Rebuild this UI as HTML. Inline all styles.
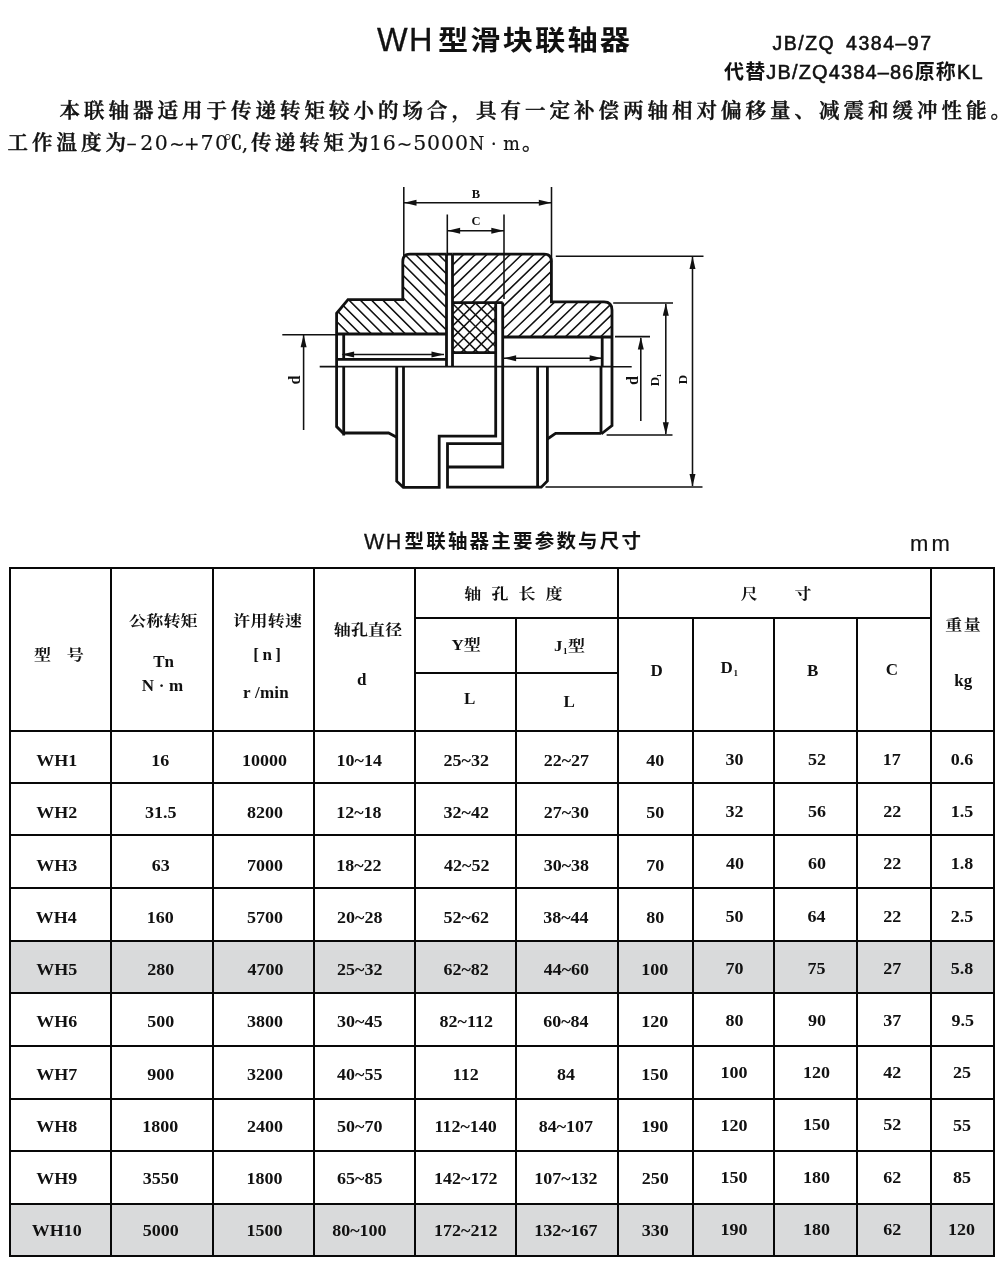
<!DOCTYPE html>
<html lang="zh-CN">
<head>
<meta charset="utf-8">
<title>WH型滑块联轴器</title>
<style>
*{box-sizing:border-box;margin:0;padding:0}
html,body{width:1000px;height:1272px;background:#fff;overflow:hidden}
body{position:relative;will-change:transform;color:#111;font-family:"Liberation Serif","Noto Serif CJK SC",serif}
.abs{position:absolute;white-space:nowrap;line-height:1}
.sans{font-family:"Liberation Sans","Noto Sans CJK SC",sans-serif}
h1.title{left:376px;top:22.5px;height:36px;font-size:27px;font-weight:700}
h1.title span{position:absolute;left:0;top:0;line-height:36px}
h1.title .wh{left:1px;top:-1px;font-size:32.5px;font-weight:400;letter-spacing:1.2px;-webkit-text-stroke:.3px #111}
h1.title .cj{left:61.5px;letter-spacing:1.9px;transform-origin:0 50%;transform:scaleX(1.12)}
.std1{left:772.5px;top:34px;font-size:19.5px;font-weight:400;letter-spacing:1.5px;-webkit-text-stroke:.55px #111}
.std2{left:724px;top:61.5px;font-size:20px;font-weight:400;letter-spacing:1.15px;-webkit-text-stroke:.55px #111}
.std2 b{font-weight:700;-webkit-text-stroke:0}
p.para{font-size:20.5px;font-weight:600;letter-spacing:4px;-webkit-text-stroke:.45px #111}
.p1{left:59.5px;top:101px}
.p2{left:7.5px;top:133px}
p.para .l{display:inline-block;font-family:"DejaVu Serif","Liberation Serif",serif;font-weight:400;font-size:20.5px;letter-spacing:1.4px;-webkit-text-stroke:.2px #111;transform-origin:0 78%;transform:scaleY(.95)}
p.para .n{font-size:17.5px;letter-spacing:6.7px;transform:scaleY(1.1)}
p.para .t{font-size:18.5px;letter-spacing:-.6px;margin:0 1.5px 0 0}
p.para .dc{display:inline-block;letter-spacing:0;font-weight:900;-webkit-text-stroke:0;transform-origin:0 50%;transform:scaleX(.88);margin-right:-3px}
.cap{left:364px;top:528px;height:26px;font-size:19.5px;font-weight:700}
.cap span{position:absolute;left:0;top:0;line-height:26px}
.cap .wh{top:1px;font-size:21.5px;font-weight:400;letter-spacing:1.5px;-webkit-text-stroke:.3px #111}
.cap .cj{left:40.5px;letter-spacing:2.2px}
.unit{left:910px;top:533px;font-size:22px;font-weight:400;letter-spacing:3.1px;-webkit-text-stroke:.2px #111}
svg.draw{position:absolute;left:250px;top:170px}
table.t{position:absolute;left:9px;top:567px;border-collapse:collapse;table-layout:fixed;font-size:18px;font-weight:700}
table.t td,table.t th{border:2px solid #080808;text-align:center;vertical-align:middle;padding:0;font-weight:700;line-height:1;white-space:nowrap}
table.t tr.sh td{background:#d9dadb}
table.t td span{position:relative;display:inline-block;transform:scaleY(.9)}
table.t th span{position:absolute;line-height:1;white-space:nowrap}
table.t th .hc{font-size:17px;transform:scaleY(.87);transform-origin:50% 50%}
table.t th .hl{font-size:17px}
table.t th sub{font-size:9px;vertical-align:baseline;position:relative;top:3px;letter-spacing:0;margin:0 .5px}
</style>
</head>
<body>
<h1 class="abs sans title"><span class="wh">WH</span><span class="cj">型滑块联轴器</span></h1>
<div class="abs sans std1">JB/ZQ<span style="letter-spacing:0">&nbsp; </span>4384–97</div>
<div class="abs sans std2"><b>代替</b>JB/ZQ4384–86<b>原称</b>KL</div>
<p class="abs para p1">本联轴器适用于传递转矩较小的场合，具有一定补偿两轴相对偏移量、减震和缓冲性能。</p>
<p class="abs para p2">工作温度为<span class="l" style="margin-left:-3.5px"><span style="letter-spacing:3.5px">–</span>20<span class="t">~+</span>70</span><span class="dc" style="margin-left:-5px">℃</span><span class="l" style="letter-spacing:0;margin:0 2.5px 0 0">,</span><span style="letter-spacing:3.7px">传递转矩为</span><span class="l" style="margin-left:-3px;letter-spacing:.9px">16<span class="t">~</span>5000</span><span class="l n" style="margin-left:0">N·m</span><span style="margin-left:-4.5px">。</span></p>
<svg class="draw" width="500" height="330" viewBox="250 170 500 330" role="img" aria-label="WH型滑块联轴器 结构图">
<defs>
<clipPath id="cl"><path d="M446.5,254.2H410Q402.8,254.2 402.8,261.5V299.7H348L336.6,313.3V334H446.5Z"/></clipPath>
<clipPath id="cr"><path d="M452.4,254.2H544Q551.4,254.2 551.4,261.5V301.8H604Q612,301.8 612,310V337H502.8V302.6H452.4Z"/></clipPath>
<clipPath id="cx"><rect x="452.4" y="302.6" width="43.2" height="50"/></clipPath>
</defs>
<!-- section hatching -->
<g stroke="#111" stroke-width="1.55" fill="none">
<path clip-path="url(#cl)" d="M256.9,253L338.9,335M268.2,253L350.2,335M279.4,253L361.4,335M290.7,253L372.7,335M301.9,253L383.9,335M313.2,253L395.2,335M324.4,253L406.4,335M335.7,253L417.7,335M346.9,253L428.9,335M358.2,253L440.2,335M369.4,253L451.4,335M380.7,253L462.7,335M391.9,253L473.9,335M403.2,253L485.2,335M414.4,253L496.4,335M425.7,253L507.7,335M437,253L519,335"/>
<path clip-path="url(#cr)" d="M453.3,253L365.3,338M465,253L377,338M476.7,253L388.7,338M488.4,253L400.4,338M500.1,253L412.1,338M511.8,253L423.8,338M523.5,253L435.5,338M535.2,253L447.2,338M546.9,253L458.9,338M558.6,253L470.6,338M570.3,253L482.3,338M582,253L494,338M593.7,253L505.7,338M605.4,253L517.4,338M617.1,253L529.1,338M628.8,253L540.8,338M640.5,253L552.5,338M652.2,253L564.2,338M663.9,253L575.9,338M675.6,253L587.6,338M687.3,253L599.3,338M699,253L611,338"/>
<path clip-path="url(#cx)" d="M453.2,302L401.2,354M464.9,302L412.9,354M476.6,302L424.6,354M488.3,302L436.3,354M500,302L448,354M511.7,302L459.7,354M523.4,302L471.4,354M535.1,302L483.1,354M546.8,302L494.8,354M404.2,302L456.2,354M415.9,302L467.9,354M427.6,302L479.6,354M439.3,302L491.3,354M451,302L503,354M462.7,302L514.7,354M474.4,302L526.4,354M486.1,302L538.1,354"/>
</g>
<!-- thin lines: extension and dimension lines -->
<g stroke="#111" stroke-width="1.55" fill="none">
<path d="M403.8,187V256M551.5,187V262M404,202.7H551"/>
<path d="M447.3,214.5V256M504,214.5V299M448,230.7H504"/>
<path d="M282.3,334.7H337M319.7,366.6H337M303.6,335V430"/>
<path d="M342.5,354.5H444M504,358.2H602"/>
<path d="M555.8,256.2H703.5M545.5,486.9H702.5M692.5,257V486"/>
<path d="M613.2,303H673M606.6,435H672.5M665.8,304V434"/>
<path d="M615,336.6H650M612,366.8H631.7M640.8,338V421"/>
</g>
<!-- arrow heads -->
<g fill="#111">
<path d="M0,0L12.5,-3V3Z" transform="translate(404 202.7)"/>
<path d="M0,0L12.5,-3V3Z" transform="translate(551.3 202.7) rotate(180)"/>
<path d="M0,0L12.5,-3V3Z" transform="translate(447.6 230.7)"/>
<path d="M0,0L12.5,-3V3Z" transform="translate(503.8 230.7) rotate(180)"/>
<path d="M0,0L12.5,-3V3Z" transform="translate(303.6 334.8) rotate(90)"/>
<path d="M0,0L12.5,-3V3Z" transform="translate(341.6 354.5)"/>
<path d="M0,0L12.5,-3V3Z" transform="translate(444 354.5) rotate(180)"/>
<path d="M0,0L12.5,-3V3Z" transform="translate(503.6 358.2)"/>
<path d="M0,0L12.5,-3V3Z" transform="translate(602.2 358.2) rotate(180)"/>
<path d="M0,0L12.5,-3V3Z" transform="translate(692.5 256.6) rotate(90)"/>
<path d="M0,0L12.5,-3V3Z" transform="translate(692.5 486.6) rotate(-90)"/>
<path d="M0,0L12.5,-3V3Z" transform="translate(665.8 303.2) rotate(90)"/>
<path d="M0,0L12.5,-3V3Z" transform="translate(665.8 434.8) rotate(-90)"/>
<path d="M0,0L12.5,-3V3Z" transform="translate(640.8 337) rotate(90)"/>
</g>
<!-- thick outline -->
<g stroke="#111" stroke-width="2.8" fill="none" stroke-linejoin="miter" stroke-linecap="butt">
<path d="M446.5,254.2H410Q402.8,254.2 402.8,261.5V299.7H348L336.6,313.3V426.6L343.5,433.5"/>
<path d="M336.6,334H446.5M336.6,359.4H446.5M343.7,334V359.4M343.7,366.6V435.5"/>
<path d="M343.6,433H388.6L396.7,437.2"/>
<path d="M396.7,366.6V481.2L403.3,487.3H439.2V436.2H495.7V302.6"/>
<path d="M403.5,366.6V487"/>
<path d="M446.5,254.2V366.6M452.5,254.2V366.6M446.5,254.2H452.5"/>
<path d="M452.4,254.2H544Q551.4,254.2 551.4,261.5V301.8H604Q612,301.8 612,310V425.5L601.2,434"/>
<path d="M452.4,302.6H502.7M452.4,352.6H495.7"/>
<path d="M502.7,337H612M602.2,337V366M601,366V434"/>
<path d="M502.7,302.6V467H447.5M502.7,443.7H447.5V487.2H541.3L547.4,481V366.6"/>
<path d="M537.6,366.6V487.2"/>
<path d="M547.4,439L555.6,433.4H601"/>
</g>
<path d="M337,366.6H612" stroke="#111" stroke-width="1.8" fill="none"/>
<!-- labels -->
<g font-family="'Liberation Serif',serif" font-weight="700" fill="#111" text-anchor="middle">
<text x="476" y="197.8" font-size="12.5">B</text>
<text x="476" y="224.6" font-size="12.5">C</text>
<text transform="translate(299.5 380) rotate(-90)" font-size="16">d</text>
<text transform="translate(637.5 380.5) rotate(-90)" font-size="16">d</text>
<text transform="translate(659.4 380) rotate(-90)" font-size="13">D<tspan font-size="7" dy="1.5" dx="-.5">1</tspan></text>
<text transform="translate(686.8 379.5) rotate(-90)" font-size="13">D</text>
</g>
</svg>
<div class="abs sans cap"><span class="wh">WH</span><span class="cj">型联轴器主要参数与尺寸</span></div>
<div class="abs sans unit">mm</div>
<table class="t">
<colgroup><col style="width:101px"><col style="width:102px"><col style="width:101px"><col style="width:101px"><col style="width:101px"><col style="width:102px"><col style="width:75px"><col style="width:81px"><col style="width:83px"><col style="width:74px"><col style="width:63px"></colgroup>
<thead>
<tr style="height:50px"><th rowspan="3"><span class="hc" style="left:24.1px;top:79px;letter-spacing:15.6px">型号</span></th><th rowspan="3"><span class="hc" style="left:119px;top:45.4px;letter-spacing:.2px">公称转矩</span><span class="hl" style="left:143.2px;top:85.2px">Tn</span><span class="hl" style="left:131.8px;top:109.3px;letter-spacing:.2px">N · m</span></th><th rowspan="3"><span class="hc" style="left:223.3px;top:45px;letter-spacing:.2px">许用转速</span><span class="hl" style="left:243.3px;top:78px;letter-spacing:-.4px">[ n ]</span><span class="hl" style="left:233.1px;top:115.7px;letter-spacing:.2px">r /min</span></th><th rowspan="3"><span class="hc" style="left:323.7px;top:53.8px;letter-spacing:.2px">轴孔直径</span><span class="hl" style="left:347.1px;top:102.8px">d</span></th><th colspan="2"><span class="hc" style="left:454.3px;top:18.2px;letter-spacing:10.1px">轴孔长度</span></th><th colspan="4"><span class="hc" style="left:730.8px;top:17.8px;letter-spacing:36.6px">尺寸</span></th><th rowspan="3"><span class="hc" style="left:935.3px;top:48.5px;letter-spacing:1.5px">重量</span><span class="hl" style="left:944.2px;top:103.8px">kg</span></th></tr>
<tr style="height:55px"><th><span class="hc" style="left:441.5px;top:68.8px">Y型</span></th><th><span class="hc" style="left:544px;top:70px">J<sub>1</sub>型</span></th><th rowspan="2"><span class="hl" style="left:640.6px;top:93.5px">D</span></th><th rowspan="2"><span class="hl" style="left:710.6px;top:90.8px">D<sub>1</sub></span></th><th rowspan="2"><span class="hl" style="left:797.1px;top:93.7px">B</span></th><th rowspan="2"><span class="hl" style="left:875.7px;top:93.1px">C</span></th></tr>
<tr style="height:58px"><th><span class="hl" style="left:454.1px;top:121.9px">L</span></th><th><span class="hl" style="left:553.6px;top:125px">L</span></th></tr>
</thead>
<tbody>
<tr style="height:52px"><td><span style="left:-3.8px;top:3.6px">WH1</span></td><td><span style="left:-1.8px;top:3.6px">16</span></td><td><span style="left:1.1px;top:4px">10000</span></td><td><span style="left:-5.3px;top:3.9px">10~14</span></td><td><span style="left:0.8px;top:3.9px">25~32</span></td><td><span style="left:-0.6px;top:3.7px">22~27</span></td><td><span style="left:-0.3px;top:3.8px">40</span></td><td><span style="left:1.1px;top:3px">30</span></td><td><span style="left:1.5px;top:2.9px">52</span></td><td><span style="left:-2.2px;top:2.8px">17</span></td><td><span style="left:-0.4px;top:3.3px">0.6</span></td></tr>
<tr style="height:52px"><td><span style="left:-3.8px;top:4.4px">WH2</span></td><td><span style="left:-1.3px;top:4.4px">31.5</span></td><td><span style="left:1.6px;top:3.7px">8200</span></td><td><span style="left:-5.6px;top:3.9px">12~18</span></td><td><span style="left:0.8px;top:4.4px">32~42</span></td><td><span style="left:-0.6px;top:4.2px">27~30</span></td><td><span style="left:-0.3px;top:4px">50</span></td><td><span style="left:1.1px;top:2.8px">32</span></td><td><span style="left:1.5px;top:2.8px">56</span></td><td><span style="left:-1.7px;top:3px">22</span></td><td><span style="left:-0.4px;top:3.1px">1.5</span></td></tr>
<tr style="height:53px"><td><span style="left:-3.8px;top:4.2px">WH3</span></td><td><span style="left:-1.3px;top:4.2px">63</span></td><td><span style="left:1.6px;top:4.2px">7000</span></td><td><span style="left:-5.6px;top:4.6px">18~22</span></td><td><span style="left:1.3px;top:4.2px">42~52</span></td><td><span style="left:-0.6px;top:4.4px">30~38</span></td><td><span style="left:-0.3px;top:4.4px">70</span></td><td><span style="left:1.6px;top:2.3px">40</span></td><td><span style="left:1.5px;top:2px">60</span></td><td><span style="left:-1.7px;top:2.5px">22</span></td><td><span style="left:-0.4px;top:2.6px">1.8</span></td></tr>
<tr style="height:53px"><td><span style="left:-4.3px;top:3.4px">WH4</span></td><td><span style="left:-1.8px;top:3.4px">160</span></td><td><span style="left:1.6px;top:3px">5700</span></td><td><span style="left:-4.8px;top:3.4px">20~28</span></td><td><span style="left:0.8px;top:3.8px">52~62</span></td><td><span style="left:-1.1px;top:3.2px">38~44</span></td><td><span style="left:-0.3px;top:3.6px">80</span></td><td><span style="left:1.1px;top:2.6px">50</span></td><td><span style="left:1px;top:2.4px">64</span></td><td><span style="left:-1.7px;top:2.5px">22</span></td><td><span style="left:-0.4px;top:2.1px">2.5</span></td></tr>
<tr class="sh" style="height:52px"><td><span style="left:-3.8px;top:2.6px">WH5</span></td><td><span style="left:-1.3px;top:2.6px">280</span></td><td><span style="left:2.1px;top:3.1px">4700</span></td><td><span style="left:-4.8px;top:3px">25~32</span></td><td><span style="left:0.6px;top:3px">62~82</span></td><td><span style="left:-0.6px;top:3.4px">44~60</span></td><td><span style="left:-0.8px;top:2.8px">100</span></td><td><span style="left:1.1px;top:2px">70</span></td><td><span style="left:1px;top:1.8px">75</span></td><td><span style="left:-1.7px;top:1.7px">27</span></td><td><span style="left:-0.4px;top:2.3px">5.8</span></td></tr>
<tr style="height:53px"><td><span style="left:-3.8px;top:2.8px">WH6</span></td><td><span style="left:-1.3px;top:2.8px">500</span></td><td><span style="left:1.6px;top:2.4px">3800</span></td><td><span style="left:-4.8px;top:2.7px">30~45</span></td><td><span style="left:0.8px;top:2.7px">82~112</span></td><td><span style="left:-1.1px;top:2.6px">60~84</span></td><td><span style="left:-0.8px;top:2.3px">120</span></td><td><span style="left:1.1px;top:1.2px">80</span></td><td><span style="left:1.5px;top:1.2px">90</span></td><td><span style="left:-1.7px;top:1.3px">37</span></td><td><span style="left:0.2px;top:1.5px">9.5</span></td></tr>
<tr style="height:53px"><td><span style="left:-3.8px;top:2.2px">WH7</span></td><td><span style="left:-1.3px;top:2.2px">900</span></td><td><span style="left:1.6px;top:2.5px">3200</span></td><td><span style="left:-4.8px;top:2.6px">40~55</span></td><td><span style="left:0.3px;top:2.2px">112</span></td><td><span style="left:-1.1px;top:2.4px">84</span></td><td><span style="left:-0.8px;top:2.4px">150</span></td><td><span style="left:0.6px;top:0.3px">100</span></td><td><span style="left:1px">120</span></td><td><span style="left:-1.7px;top:0.5px">42</span></td><td><span style="left:-0.4px;top:0.6px">25</span></td></tr>
<tr style="height:52px"><td><span style="left:-3.8px;top:1.8px">WH8</span></td><td><span style="left:-1.8px;top:1.8px">1800</span></td><td><span style="left:1.6px;top:1.6px">2400</span></td><td><span style="left:-4.8px;top:1.8px">50~70</span></td><td><span style="left:0.1px;top:2.4px">112~140</span></td><td><span style="left:-1.1px;top:1.6px">84~107</span></td><td><span style="left:-0.8px;top:2px">190</span></td><td><span style="left:0.6px;top:0.9px">120</span></td><td><span style="left:1px;top:0.2px">150</span></td><td><span style="left:-1.7px;top:-0.3px">52</span></td><td><span style="left:-0.4px;top:0.5px">55</span></td></tr>
<tr style="height:53px"><td><span style="left:-3.8px;top:1.6px">WH9</span></td><td><span style="left:-1.3px;top:1.6px">3550</span></td><td><span style="left:1.1px;top:1.4px">1800</span></td><td><span style="left:-4.8px;top:1.6px">65~85</span></td><td><span style="left:0.3px;top:1.3px">142~172</span></td><td><span style="left:-1.1px;top:1.4px">107~132</span></td><td><span style="left:-0.3px;top:1.8px">250</span></td><td><span style="left:0.6px">150</span></td><td><span style="left:1px">180</span></td><td><span style="left:-1.7px;top:0.3px">62</span></td><td><span style="left:-0.4px;top:0.3px">85</span></td></tr>
<tr class="sh" style="height:52px"><td><span style="left:-3.8px;top:0.8px">WH10</span></td><td><span style="left:-1.3px;top:0.8px">5000</span></td><td><span style="left:1.1px;top:0.8px">1500</span></td><td><span style="left:-5.1px;top:1.1px">80~100</span></td><td><span style="left:0.3px;top:0.9px">172~212</span></td><td><span style="left:-1.1px;top:0.9px">132~167</span></td><td><span style="left:-0.3px;top:1px">330</span></td><td><span style="left:0.6px;top:0.2px">190</span></td><td><span style="left:1px;top:-0.1px">180</span></td><td><span style="left:-1.7px;top:-0.3px">62</span></td><td><span style="left:-0.9px;top:-0.3px">120</span></td></tr>
</tbody>
</table>
</body>
</html>
